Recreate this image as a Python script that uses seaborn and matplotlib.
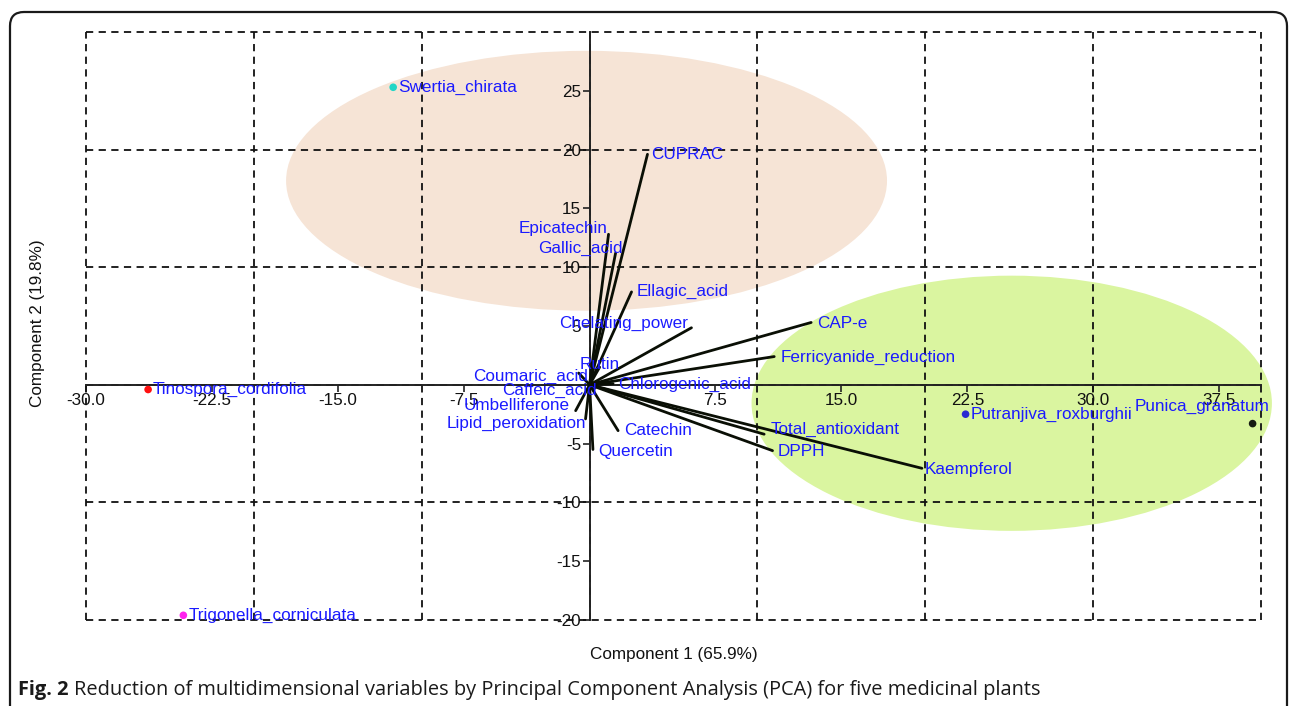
import numpy as np
import pandas as pd
import matplotlib
matplotlib.use("Agg")
import matplotlib.pyplot as plt
from matplotlib.patches import Ellipse, FancyBboxPatch
from matplotlib.ticker import FixedLocator
import seaborn as sns

# ---- PCA scores of the five plants (component 1, component 2) ----
species = ["Swertia_chirata", "Tinospora_cordifolia", "Trigonella_corniculata",
           "Putranjiva_roxburghii", "Punica_granatum"]
pc1_scores = [-11.7, -26.3, -24.2, 22.4, 39.5]
pc2_scores = [25.3, -0.4, -19.6, -2.5, -3.3]

# ---- loadings of the measured variables ----
variables = ["CUPRAC", "Epicatechin", "Gallic_acid", "Ellagic_acid", "Chelating_power",
             "Rutin", "Coumaric_acid", "Caffeic_acid", "Chlorogenic_acid", "Umbelliferone",
             "Lipid_peroxidation", "Quercetin", "Catechin", "CAP-e",
             "Ferricyanide_reduction", "Total_antioxidant", "DPPH", "Kaempferol"]
pc1_loadings = [3.45, 1.13, 1.55, 2.5, 6.07, 0.6, -0.65, 0.3, 1.4, -0.83,
                -0.24, 0.2, 1.7, 13.2, 11.0, 10.4, 10.9, 19.8]
pc2_loadings = [19.6, 12.8, 11.2, 7.9, 4.85, 1.5, 1.0, -0.3, 0.1, -2.2,
                -2.9, -5.5, -3.9, 5.3, 2.4, -4.2, -5.6, -7.1]

# ---- group ellipses: centre x, centre y, width, height ----
group_ellipses = [(-0.18, 17.35, 35.8, 22.1), (25.15, -1.57, 31.0, 21.7)]

# ---- axis ticks ----
x_ticks = [-30.0, -22.5, -15.0, -7.5, 7.5, 15.0, 22.5, 30.0, 37.5]
y_ticks = [-20, -15, -10, -5, 5, 10, 15, 20, 25]
x_label = "Component 1 (65.9%)"
y_label = "Component 2 (19.8%)"
caption_bold = "Fig. 2"
caption_text = ("Reduction of multidimensional variables by Principal Component "
                "Analysis (PCA) for five medicinal plants")

# ---- styling ----
point_colors = {"Swertia_chirata": "#22d6c6", "Tinospora_cordifolia": "#ff1010",
                "Trigonella_corniculata": "#ff22ee", "Putranjiva_roxburghii": "#2a2ad2",
                "Punica_granatum": "#151a12"}
ellipse_colors = ["#f6e4d6", "#daf5a0"]
label_blue = "#1a1aff"
# label offsets in pixels from the arrow tip / point, and horizontal alignment
var_label_pos = {
    "CUPRAC": (4, 0, "left"), "Epicatechin": (-1, 6, "right"),
    "Gallic_acid": (7, 5, "right"), "Ellagic_acid": (5, 0, "left"),
    "Chelating_power": (-3, 4, "right"), "Rutin": (0, 3, "center"),
    "Coumaric_acid": (9, -3, "right"), "Caffeic_acid": (2, -2.5, "right"),
    "Chlorogenic_acid": (5.5, -1, "left"), "Umbelliferone": (-6, 5, "right"),
    "Lipid_peroxidation": (1, -5, "right"), "Quercetin": (5, -2, "left"),
    "Catechin": (6, 0, "left"), "CAP-e": (6, -1, "left"),
    "Ferricyanide_reduction": (6, -1, "left"), "Total_antioxidant": (6, 5, "left"),
    "DPPH": (5, -1, "left"), "Kaempferol": (3, -1, "left"),
}
sp_label_pos = {s: (5, 0, "left") for s in species}
sp_label_pos["Punica_granatum"] = (17, 17, "right")

sns.set_theme(style="white")
plt.rcParams["font.family"] = ["Liberation Sans", "DejaVu Sans"]
FS = 12.3
CAP_FS = 14.4

W, H = 1290, 706
fig = plt.figure(figsize=(W / 100, H / 100), dpi=100)
fig.patch.set_facecolor("white")
ax = fig.add_axes([86 / W, 1 - 620 / H, 1175 / W, 588 / H])
ax.set_facecolor("none")
ax.set_xlim(-30, 40)
ax.set_ylim(-20, 30)

# group ellipses
for (cx, cy, ew, eh), col in zip(group_ellipses, ellipse_colors):
    ax.add_patch(Ellipse((cx, cy), ew, eh, facecolor=col, edgecolor="none",
                         zorder=0.5, clip_on=False))

# dashed reference grid every 10 units
for gx in np.arange(-30, 41, 10):
    ax.axvline(gx, color="#111111", lw=1.3, ls=(0, (4, 3)), zorder=1, clip_on=False)
for gy in np.arange(-20, 31, 10):
    ax.axhline(gy, color="#111111", lw=1.3, ls=(0, (4, 3)), zorder=1, clip_on=False)

# axes crossing at the origin
for side in ("top", "right"):
    ax.spines[side].set_visible(False)
for side in ("left", "bottom"):
    ax.spines[side].set_position("zero")
    ax.spines[side].set_color("#222222")
    ax.spines[side].set_linewidth(1.4)
    ax.spines[side].set_zorder(2.5)

ax.xaxis.set_major_locator(FixedLocator(x_ticks))
ax.yaxis.set_major_locator(FixedLocator(y_ticks))
ax.set_xticklabels([f"{v:.1f}" for v in x_ticks])
ax.set_yticklabels([f"{v:g}" for v in y_ticks])
ax.tick_params(axis="both", which="major", direction="out", length=5, width=1.2,
               color="#222222", labelsize=FS, labelcolor="#111111", pad=1,
               bottom=True, left=True)
ax.grid(False)

# loading vectors from the origin
vec_rows = []
for v, lx, ly in zip(variables, pc1_loadings, pc2_loadings):
    vec_rows.append({"variable": v, "x": 0.0, "y": 0.0, "step": 0})
    vec_rows.append({"variable": v, "x": lx, "y": ly, "step": 1})
vec_df = pd.DataFrame(vec_rows)
sns.lineplot(data=vec_df, x="x", y="y", units="variable", estimator=None, sort=False,
             color="#0a0f05", lw=2.0, ax=ax, legend=False, zorder=3)

for v, lx, ly in zip(variables, pc1_loadings, pc2_loadings):
    dx, dy, ha = var_label_pos[v]
    ax.annotate(v, (lx, ly), xytext=(dx, dy), textcoords="offset pixels",
                ha=ha, va="center", fontsize=FS, color=label_blue, zorder=5,
                annotation_clip=False)

# plant scores
score_df = pd.DataFrame({"species": species, "pc1": pc1_scores, "pc2": pc2_scores})
sns.scatterplot(data=score_df, x="pc1", y="pc2", hue="species", palette=point_colors,
                s=30, edgecolor="none", legend=False, ax=ax, zorder=4, clip_on=False)
for s, px, py in zip(species, pc1_scores, pc2_scores):
    dx, dy, ha = sp_label_pos[s]
    ax.annotate(s, (px, py), xytext=(dx, dy), textcoords="offset pixels",
                ha=ha, va="center", fontsize=FS, color=label_blue, zorder=5,
                annotation_clip=False)

ax.set_xlabel(x_label, fontsize=FS, color="#111111")
ax.set_ylabel(y_label, fontsize=FS, color="#111111")
ax.xaxis.set_label_coords(0.5, -(655 - 620) / 588)
ax.yaxis.set_label_coords((38 - 86) / 1175, (620 - 323) / 588)
ax.xaxis.label.set_va("center")
ax.yaxis.label.set_va("center")

# rounded frame around the figure panel
frame = FancyBboxPatch((10, -30), 1277, H - 12 + 30,
                       boxstyle="round,pad=0,rounding_size=14",
                       transform=None, facecolor="none", edgecolor="#1a1a1a",
                       lw=1.6, zorder=10)
fig.patches.append(frame)

# caption
cap_y = 1 - 690 / H
t1 = fig.text(18 / W, cap_y, caption_bold, fontsize=CAP_FS, fontweight="bold",
              family=["Open Sans", "DejaVu Sans"], va="center", ha="left", color="#1a1a1a")
renderer = fig.canvas.get_renderer()
bb = t1.get_window_extent(renderer)
fig.text((bb.x1 + 5) / W, cap_y, caption_text, fontsize=CAP_FS,
         family=["Open Sans", "DejaVu Sans"], va="center", ha="left", color="#1a1a1a")

fig.savefig("out.png", dpi=100, facecolor="white")
